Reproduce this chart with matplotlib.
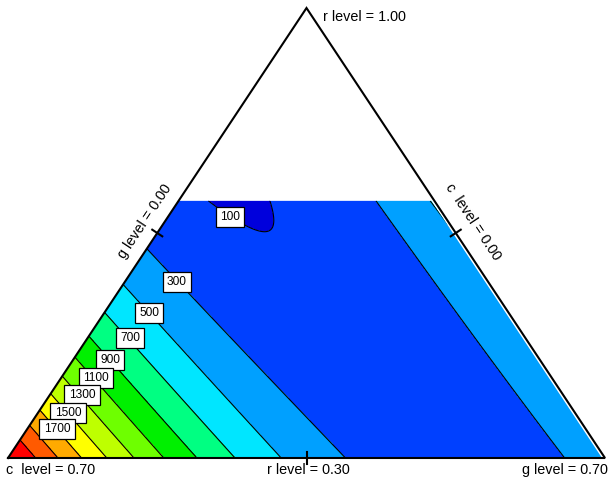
import numpy as np
import matplotlib
matplotlib.use("Agg")
import matplotlib.pyplot as plt
import matplotlib.tri as mtri
from matplotlib.patches import Polygon

plt.rcParams['font.family'] = ['Liberation Sans', 'DejaVu Sans']

# Special-cubic mixture model in pseudo-components (c, g, r)
linear_coef = [2363, 415, 588]            # c, g, r
binary_coef = [-3914, -4974, 18]          # c*g, c*r, g*r
ternary_coef = -165                       # c*g*r

# Actual component ranges
r_low, r_high, r_cap = 0.30, 1.00, 0.70
c_high, g_high = 0.70, 0.70

levels = [100, 300, 500, 700, 900, 1100, 1300, 1500, 1700, 1900, 2100]
labelled_levels = [100, 300, 500, 700, 900, 1100, 1300, 1500, 1700]
band_colors = ['#0000dc', '#0040ff', '#00a0ff', '#00e6ff', '#00ff82', '#00f000',
               '#6eff00', '#beff00', '#ffff00', '#ffaa00', '#ff5a00', '#ff0000']


def response(c, g, r):
    return (linear_coef[0] * c + linear_coef[1] * g + linear_coef[2] * r
            + binary_coef[0] * c * g + binary_coef[1] * c * r + binary_coef[2] * g * r
            + ternary_coef * c * g * r)


def to_xy(c, g, r):
    return g + 0.5 * r, r


W, H = 609, 483
fig = plt.figure(figsize=(W / 100, H / 100), dpi=100)
ax = fig.add_axes([8 / W, (H - 458) / H, 597 / W, 450 / H])
ax.set_xlim(0, 1)
ax.set_ylim(0, 1)
ax.axis('off')

# pseudo-component upper bound for r
rmax = (r_cap - r_low) / (r_high - r_low)

n, m = 140, 280
P = []
for i in range(n + 1):
    r = rmax * i / n
    for j in range(m + 1):
        g = (1 - r) * j / m
        P.append((1 - r - g, g, r))
P = np.array(P)
X, Y = to_xy(P[:, 0], P[:, 1], P[:, 2])
Z = response(P[:, 0], P[:, 1], P[:, 2])
tri = mtri.Triangulation(X, Y)

cf = ax.tricontourf(tri, Z, levels=[-1e5] + levels + [1e5], colors=band_colors)
cl = ax.tricontour(tri, Z, levels=levels, colors='k', linewidths=0.8)

# fill stops a hair short of the right-hand edge
gap = 3 / 597
clip = Polygon([(0, 0), (1 - gap, 0), (1 - 0.5 * rmax - gap, rmax), (0.5 * rmax, rmax)],
               closed=True, transform=ax.transData, fc='none', ec='none')
ax.add_patch(clip)
cf.set_clip_path(clip)
cl.set_clip_path(clip)

# triangle frame
ax.plot([0, 1, 0.5, 0], [0, 0, 1, 0], color='k', lw=1.5, clip_on=False,
        solid_joinstyle='miter')

# mid-edge ticks
sx, sy = 1 / 597, 1 / 450
half = 6
ax.plot([0.5, 0.5], [-half * sy, half * sy], color='k', lw=1.5, clip_on=False)
nl = np.array([0.834, -0.552])
ax.plot([0.25 - nl[0] * half * sx, 0.25 + nl[0] * half * sx],
        [0.5 - nl[1] * half * sy, 0.5 + nl[1] * half * sy], color='k', lw=1.5, clip_on=False)
nr = np.array([0.834, 0.552])
ax.plot([0.75 - nr[0] * half * sx, 0.75 + nr[0] * half * sx],
        [0.5 - nr[1] * half * sy, 0.5 + nr[1] * half * sy], color='k', lw=1.5, clip_on=False)

# contour labels
label_px = [(230, 217), (177, 282), (149, 313), (130, 338), (110, 360),
            (96, 378), (82, 395), (68, 413), (57, 429)]
for lev, (px, py) in zip(labelled_levels, label_px):
    ax.text((px - 8) / 597, (458 - py) / 450, f'{lev}', fontsize=8.6, ha='center', va='center',
            zorder=5, bbox=dict(boxstyle='square,pad=0.36', fc='white', ec='black', lw=0.9))

# vertex and edge captions
fs = 10.4
fig.text(323 / W, 1 - 17 / H, f'r level = {r_high:.2f}', fontsize=fs, ha='left', va='center')
fig.text(6 / W, 1 - 470 / H, f'c  level = {c_high:.2f}', fontsize=fs, ha='left', va='center')
fig.text(308 / W, 1 - 470 / H, f'r level = {r_low:.2f}', fontsize=fs, ha='center', va='center')
fig.text(522 / W, 1 - 470 / H, f'g level = {g_high:.2f}', fontsize=fs, ha='left', va='center')
fig.text(145 / W, 1 - 221 / H, 'g level = 0.00', fontsize=fs, ha='center', va='center',
         rotation=56.5, rotation_mode='anchor')
fig.text(473 / W, 1 - 222 / H, 'c  level = 0.00', fontsize=fs, ha='center', va='center',
         rotation=-56.4, rotation_mode='anchor')

fig.savefig('out.png', dpi=100)
